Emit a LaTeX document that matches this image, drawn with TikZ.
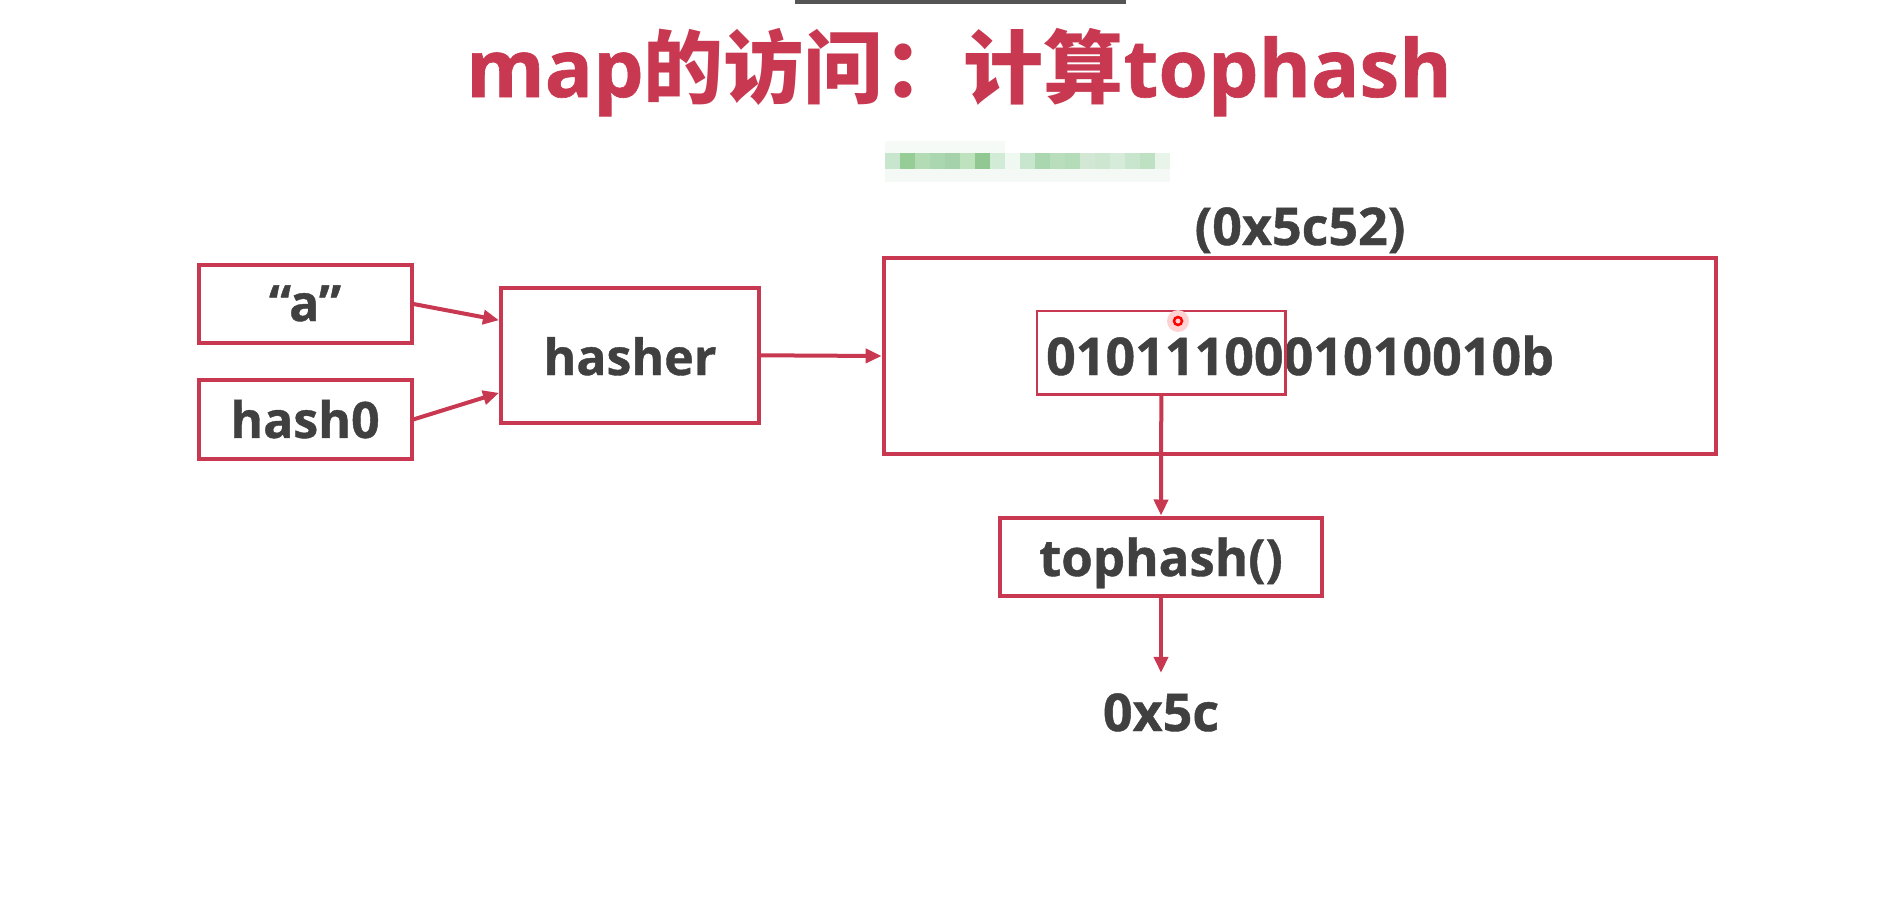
\documentclass[tikz,border=0pt]{standalone}
\usepackage{fontspec}
\setmainfont{Open Sans}[BoldFeatures={FakeBold=0.8}]
\newfontfamily\cjk{Noto Sans CJK SC Bold}
\usetikzlibrary{arrows.meta}
\definecolor{crim}{RGB}{200,56,80}
\definecolor{txt}{RGB}{64,64,64}
\definecolor{barg}{RGB}{85,85,85}
\tikzset{
  box/.style={draw=crim, line width=4pt, inner sep=0pt, text=txt,
    font=\bfseries\fontsize{50}{60}\selectfont, text depth=0pt},
  bigtext/.style={text=txt, font=\bfseries\fontsize{52}{62}\selectfont},
  conn/.style={draw=crim, line width=4pt, -{Triangle[length=16pt,width=14pt]}},
}
\begin{document}
\begin{tikzpicture}[x=1pt,y=-1pt]
\useasboundingbox (0,0) rectangle (1898,916);
\fill[white] (0,0) rectangle (1898,916);
% top bar
\fill[barg] (795,0) rectangle (1126,4);
% blurred watermark
\foreach \i/\r/\g/\b in {0/200/230/205,1/150/205/150,2/180/220/180,3/170/215/175,4/165/210/170,5/190/225/190,6/145/200/145,7/210/235/215,8/240/248/242,9/200/230/205,10/170/215/175,11/185/222/188,12/180/220/185,13/210/232/212,14/205/230/208,15/215/235/218,16/200/230/205,17/190/225/195,18/232/244/234}{
  \fill[fill={rgb,255:red,\r;green,\g;blue,\b}] ({885+15*\i},153) rectangle ({900+15*\i},169);
  \fill[fill={rgb,255:red,244;green,249;blue,245}] ({885+15*\i},169) rectangle ({900+15*\i},182);
}
\foreach \i in {0,...,7}{
  \fill[fill={rgb,255:red,246;green,250;blue,247}] ({885+15*\i},141) rectangle ({900+15*\i},153);
}
% title
\node[anchor=base, text=crim, inner sep=0pt, font=\bfseries\fontsize{80}{94}\selectfont] (title) at (959,97) {map{\cjk 的访问：计算}tophash};
% boxes
\node[box, minimum width=213pt, minimum height=77.6pt, text height=34pt] (a) at (305,304) {“a”};
\node[box, minimum width=213pt, minimum height=78.8pt, text height=37pt] (h0) at (305,419.4) {hash0};
\node[box, minimum width=258pt, minimum height=134.5pt, text height=39.4pt] (hasher) at (630,355.3) {hasher};
\node[box, minimum width=832.8pt, minimum height=196.2pt, text height=38pt, font=\bfseries\fontsize{52}{62}\selectfont] (big) at (1300,356) {0101110001010010b};
\node[draw=crim, line width=2.5pt, inner sep=0pt, minimum width=248.6pt, minimum height=83.6pt] (inner) at (1161.3,352.8) {};
\node[box, minimum width=322pt, minimum height=78.6pt, text height=38.4pt, font=\bfseries\fontsize{51}{61}\selectfont] (top) at (1161,556.8) {tophash()};
\node[bigtext, anchor=base, inner xsep=0pt, inner ysep=20pt, text height=38pt, text depth=0pt] (val) at (1161,731) {0x5c};
\node[bigtext, anchor=base, inner sep=0pt] (addr) at (1300,245) {(0x5c52)};
% cursor
\fill[red!18] (1178,321) circle (11pt);
\draw[red, line width=2.5pt] (1178,321) circle (4pt);
% connectors
\draw[conn] (a.east) -- (hasher.165);
\draw[conn] (h0.east) -- (hasher.196);
\draw[conn] (hasher.east) -- (big.west);
\draw[conn] (inner.south) -- (top.north);
\draw[conn] (top.south) -- (val.north);
\end{tikzpicture}
\end{document}
